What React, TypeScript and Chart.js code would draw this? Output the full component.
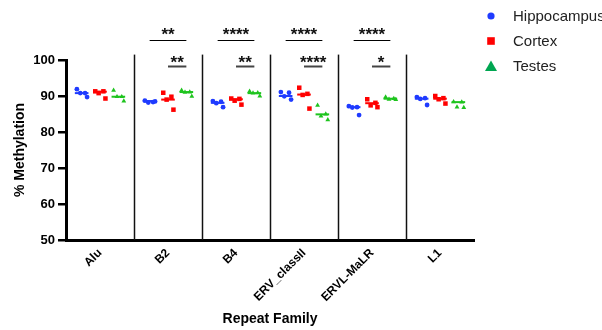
import React, { useEffect, useRef } from 'react';
import { Chart, registerables } from 'chart.js';

Chart.register(...registerables);

// ---------- data ----------
const categories = ['Alu', 'B2', 'B4', 'ERV_classII', 'ERVL-MaLR', 'L1'];
const seriesNames = ['Hippocampus', 'Cortex', 'Testes'];

const hippocampus = [
  [91.9, 90.8, 90.8, 89.7],
  [88.7, 88.3, 88.2, 88.5],
  [88.6, 88.4, 88.0, 86.9],
  [91.1, 90.9, 89.9, 89.0],
  [87.2, 86.9, 86.8, 84.7],
  [89.7, 89.4, 89.2, 87.5],
];
const cortex = [
  [91.3, 91.3, 90.8, 89.3],
  [90.9, 89.8, 89.0, 86.2],
  [89.3, 89.2, 88.7, 87.6],
  [92.3, 90.6, 90.3, 86.5],
  [89.1, 88.1, 87.4, 86.9],
  [90.0, 89.4, 89.1, 87.9],
];
const testes = [
  [91.6, 89.8, 89.8, 88.6],
  [91.6, 91.1, 91.0, 89.9],
  [91.3, 90.9, 90.8, 90.0],
  [87.4, 85.0, 84.4, 83.4],
  [89.7, 89.3, 89.1, 89.0],
  [88.4, 88.3, 86.9, 86.8],
];

// centre (mean) lines
const hippocampusLine = [90.8, 88.6, 88.1, 90.0, 86.9, 89.25];
const cortexLine = [91.2, 89.0, 89.1, 90.4, 88.0, 89.25];
const testesLine = [89.8, 91.1, 90.8, 84.9, 89.25, 88.3];

// significance comparisons: category index, group from, group to, level, label
const sigCategory = [1, 2, 3, 4, 1, 2, 3, 4];
const sigFrom = [0, 0, 0, 0, 1, 1, 1, 1];
const sigTo = [2, 2, 2, 2, 2, 2, 2, 2];
const sigLevel = [1, 1, 1, 1, 0, 0, 0, 0];
const sigLabel = ['**', '****', '****', '****', '**', '**', '****', '*'];

const yTicks = [50, 60, 70, 80, 90, 100];

// ---------- styles ----------
const FONT = "Arial, 'Liberation Sans', Helvetica, sans-serif";
const BLUE = '#1F3BFF';
const RED = '#FF0000';
const GREEN = '#1EC41E';
const LEGEND_GREEN = '#00A651';
const GROUP_OFFSET = [-0.27, 0, 0.27];
const JITTER = [-0.07, 0.05, -0.02, 0.08];

export default function App() {
  const ref = useRef<HTMLCanvasElement>(null);

  useEffect(() => {
    document.body.style.margin = '0';
    const canvas = ref.current;
    if (!canvas) return;

    const groups = [
      { name: seriesNames[0], values: hippocampus, line: hippocampusLine, color: BLUE, legendColor: BLUE, style: 'circle', radius: 2.4 },
      { name: seriesNames[1], values: cortex, line: cortexLine, color: RED, legendColor: RED, style: 'rect', radius: 3.2 },
      { name: seriesNames[2], values: testes, line: testesLine, color: GREEN, legendColor: LEGEND_GREEN, style: 'triangle', radius: 2.8 },
    ];

    const datasets = groups.map((g, gi) => ({
      label: g.name,
      data: g.values.flatMap((vals, ci) =>
        vals.map((v, k) => ({ x: ci + GROUP_OFFSET[gi] + JITTER[k % JITTER.length], y: v }))
      ),
      pointStyle: g.style,
      pointRadius: g.radius,
      backgroundColor: g.color,
      borderColor: g.color,
      borderWidth: 0,
      showLine: false,
    }));

    const annotPlugin = {
      id: 'annot',
      beforeDatasetsDraw(chart: any) {
        const ctx = chart.ctx;
        const xs = chart.scales.x;
        const ys = chart.scales.y;
        ctx.save();
        ctx.strokeStyle = '#111';
        ctx.lineWidth = 1.5;
        for (let k = 1; k < categories.length; k++) {
          const x = Math.round(xs.getPixelForValue(k - 0.5)) + 0.5;
          ctx.beginPath();
          ctx.moveTo(x, ys.getPixelForValue(101.5));
          ctx.lineTo(x, chart.chartArea.bottom);
          ctx.stroke();
        }
        ctx.restore();
      },
      afterDatasetsDraw(chart: any) {
        const ctx = chart.ctx;
        const xs = chart.scales.x;
        const ys = chart.scales.y;
        ctx.save();
        groups.forEach((g, gi) => {
          ctx.strokeStyle = g.color;
          ctx.lineWidth = 2;
          g.line.forEach((m, ci) => {
            const c = ci + GROUP_OFFSET[gi];
            const y = ys.getPixelForValue(m);
            ctx.beginPath();
            ctx.moveTo(xs.getPixelForValue(c - 0.1), y);
            ctx.lineTo(xs.getPixelForValue(c + 0.1), y);
            ctx.stroke();
          });
        });
        ctx.restore();
      },
      afterDraw(chart: any) {
        const ctx = chart.ctx;
        const xs = chart.scales.x;
        const ys = chart.scales.y;
        ctx.save();
        // significance bars
        sigCategory.forEach((cat, i) => {
          const x1 = xs.getPixelForValue(cat + GROUP_OFFSET[sigFrom[i]]);
          const x2 = xs.getPixelForValue(cat + GROUP_OFFSET[sigTo[i]]);
          const top = sigLevel[i] === 1;
          const y = Math.round(ys.getPixelForValue(top ? 105.6 : 98.3)) + 0.5;
          ctx.strokeStyle = top ? '#000' : '#444';
          ctx.lineWidth = top ? 1.2 : 2;
          ctx.beginPath();
          ctx.moveTo(x1, y);
          ctx.lineTo(x2, y);
          ctx.stroke();
          ctx.fillStyle = '#111';
          ctx.font = `bold 17px ${FONT}`;
          ctx.textAlign = 'center';
          ctx.textBaseline = 'alphabetic';
          const m = ctx.measureText(sigLabel[i]);
          const center = y - (top ? 9.5 : 7);
          const base = center + (m.actualBoundingBoxAscent - m.actualBoundingBoxDescent) / 2;
          ctx.fillText(sigLabel[i], (x1 + x2) / 2, base);
        });
        // legend
        const lx = 491;
        const tx = 513;
        const rows = [16, 41, 66];
        groups.forEach((g, gi) => {
          const y = rows[gi];
          ctx.fillStyle = g.legendColor;
          ctx.beginPath();
          if (g.style === 'circle') {
            ctx.arc(lx, y, 3.6, 0, Math.PI * 2);
          } else if (g.style === 'rect') {
            ctx.rect(lx - 3.8, y - 3.8, 7.6, 7.6);
          } else {
            ctx.moveTo(lx, y - 5.5);
            ctx.lineTo(lx + 6, y + 5);
            ctx.lineTo(lx - 6, y + 5);
            ctx.closePath();
          }
          ctx.fill();
          ctx.fillStyle = '#222';
          ctx.font = `15px ${FONT}`;
          ctx.textAlign = 'left';
          ctx.textBaseline = 'middle';
          ctx.fillText(g.name, tx, y + 1);
        });
        ctx.restore();
      },
    };

    const chart = new Chart(canvas, {
      type: 'scatter',
      data: { datasets: datasets as any },
      options: {
        animation: false,
        responsive: false,
        maintainAspectRatio: false,
        layout: { padding: { top: 60, right: 128, left: 0, bottom: 0 } },
        plugins: { legend: { display: false }, tooltip: { enabled: false } },
        scales: {
          x: {
            type: 'linear',
            min: -0.5,
            max: 5.5,
            afterBuildTicks: (scale: any) => {
              scale.ticks = categories.map((_, i) => ({ value: i }));
            },
            afterFit: (scale: any) => {
              scale.height = 90;
            },
            grid: { display: false },
            border: { display: true, color: '#000', width: 3 },
            ticks: {
              autoSkip: false,
              minRotation: 45,
              maxRotation: 45,
              padding: -2,
              color: '#000',
              font: { family: FONT, size: 12, weight: 'bold' },
              callback: (v: any) => categories[Math.round(Number(v))],
            },
            title: {
              display: true,
              text: 'Repeat Family',
              color: '#000',
              font: { family: FONT, size: 14, weight: 'bold' },
              padding: { top: 0, bottom: 2 },
            },
          },
          y: {
            min: 50,
            max: 100,
            afterBuildTicks: (scale: any) => {
              scale.ticks = yTicks.map((v) => ({ value: v }));
            },
            afterFit: (scale: any) => {
              scale.width = 66;
            },
            grid: {
              display: true,
              drawOnChartArea: false,
              drawTicks: true,
              tickLength: 8,
              color: '#000',
              lineWidth: 2.5,
            },
            border: { display: true, color: '#000', width: 3 },
            ticks: {
              padding: 3,
              color: '#000',
              font: { family: FONT, size: 13, weight: 'bold' },
            },
            title: {
              display: true,
              text: '% Methylation',
              color: '#000',
              font: { family: FONT, size: 14, weight: 'bold' },
              padding: { top: 12, bottom: 0 },
            },
          },
        },
      } as any,
      plugins: [annotPlugin],
    });

    return () => chart.destroy();
  }, []);

  return <canvas ref={ref} width={602} height={330} style={{ display: 'block' }} />;
}
